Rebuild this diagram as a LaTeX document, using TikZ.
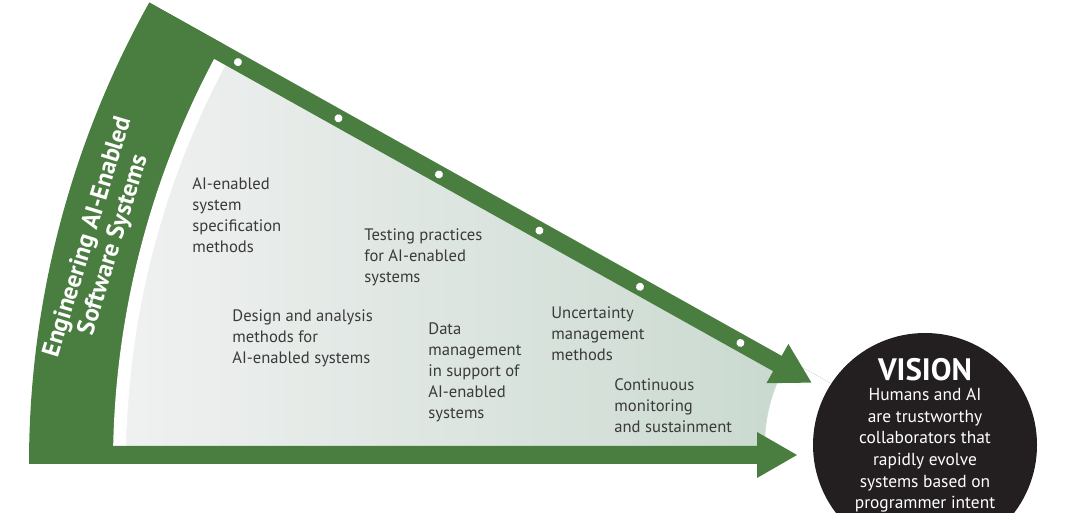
\documentclass[tikz,border=0pt]{standalone}
\usepackage{fontspec}
\setmainfont{PT Sans}[BoldFont={PT Sans Bold}]
\definecolor{bandgreen}{HTML}{4A7D40}
\definecolor{fieldlight}{HTML}{F0F1F1}
\definecolor{fielddark}{HTML}{C9D9CF}
\definecolor{topicgray}{HTML}{3A3A3A}
\definecolor{visionblack}{HTML}{231F20}

\tikzset{
  topic/.style={align=left, anchor=north west, inner sep=0pt, text=topicgray,
    font=\fontsize{8.3}{10.5}\selectfont},
  visiontext/.style={align=center, inner sep=0pt, text=white}
}

\begin{document}
\begin{tikzpicture}[x=0.5pt,y=0.5pt]
  \useasboundingbox (0,0) rectangle (1080,513);
  \clip (0,0) rectangle (1080,513);
  \coordinate (C) at (975,49);
  \coordinate (V) at (925,68);

  % outer green ring, white gap
  \fill[bandgreen] (C) -- ++(180:946) arc[start angle=180, end angle=150.8, radius=946] -- cycle;
  \fill[white] (C) -- ++(180:862) arc[start angle=180, end angle=150.8, radius=862] -- cycle;

  % grey field
  \begin{scope}
    \clip (C) -- ++(180:849) arc[start angle=180, end angle=150.8, radius=849] -- cycle;
    \clip (0,67) rectangle (975,513);
    \clip[shift={(C)}, rotate=150.8] (0,17.5) rectangle (1000,1000);
    \shade[left color=fieldlight, right color=fielddark] (120,60) rectangle (800,460);
    \fill[white] (V) circle[radius=160];
  \end{scope}

  % the two arrows
  \fill[bandgreen, shift={(C)}, rotate=150.8]
    (945,0) -- (221.5,0) -- (221.5,-13.75) -- (182.5,8.75) -- (221.5,31.25)
    -- (221.5,17.5) -- (945,17.5) -- cycle;
  \fill[bandgreen, shift={(C)}, xscale=-1]
    (946,0) -- (218,0) -- (218,-14) -- (178,9) -- (218,32)
    -- (218,18) -- (946,18) -- cycle;
  \foreach \t in {263.8,378.9,494.1,609.2,724.3,839.5}
    \fill[white, shift={(C)}, rotate=150.8] (\t,8.75) circle[radius=4];

  \node[visiontext, rotate=73, font=\bfseries\fontsize{12.4}{13.4}\selectfont] (area)
    at (101,272) {Engineering AI-Enabled\\Software Systems};

  \node[topic] (spec) at (192,336) {AI-enabled\\system\\specification\\methods};
  \node[topic] (testing) at (364,285) {Testing practices\\for AI-enabled\\systems};
  \node[topic] (design) at (232,204) {Design and analysis\\methods for\\AI-enabled systems};
  \node[topic] (data) at (428,191) {Data\\management\\in support of\\AI-enabled\\systems};
  \node[topic] (uncert) at (551,207) {Uncertainty\\management\\methods};
  \node[topic] (monitor) at (614,135) {Continuous\\monitoring\\and sustainment};

  \node[circle, fill=visionblack, minimum size=112pt, inner sep=0pt] (vision) at (V) {};
  \node[visiontext, font=\bfseries\fontsize{15.5}{16}\selectfont] (visiontitle)
    at (925,143) {VISION};
  \node[visiontext, anchor=north, font=\fontsize{8.7}{10.8}\selectfont] (visionbody)
    at (925,125) {Humans and AI\\are trustworthy\\collaborators that\\rapidly evolve\\systems based on\\programmer intent};
\end{tikzpicture}
\end{document}
